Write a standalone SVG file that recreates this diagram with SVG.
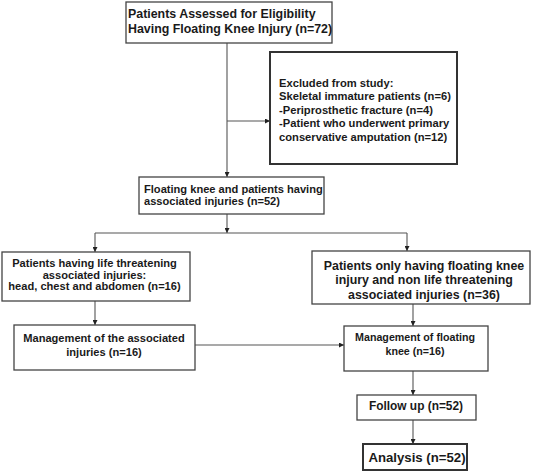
<svg xmlns="http://www.w3.org/2000/svg" width="536" height="474" viewBox="0 0 536 474">
<style>
.box{fill:#fff;stroke:#444;stroke-width:1.3}
.thick{stroke:#333;stroke-width:2}
.t{font-family:"Liberation Sans",Arial,sans-serif;font-weight:bold;fill:#1a1a1a}
.c{text-anchor:middle}
.ln{fill:none;stroke:#555;stroke-width:1.1}
</style>
<defs>
<marker id="ah" viewBox="0 0 10 10" refX="10" refY="5" markerWidth="5" markerHeight="5" markerUnits="userSpaceOnUse" orient="auto">
<path d="M0,0 L10,5 L0,10 z" fill="#222"/>
</marker>
</defs>
<rect width="536" height="474" fill="#fff"/>
<g id="connectors">
<path class="ln" d="M227,43 V177" marker-end="url(#ah)"/>
<path class="ln" d="M227,121 H270" marker-end="url(#ah)"/>
<path class="ln" d="M227,214 V233" marker-end="url(#ah)"/>
<path class="ln" d="M95,233 H407"/>
<path class="ln" d="M95,233 V252" marker-end="url(#ah)"/>
<path class="ln" d="M407,233 V251" marker-end="url(#ah)"/>
<path class="ln" d="M95,301 V325" marker-end="url(#ah)"/>
<path class="ln" d="M413,304 V326" marker-end="url(#ah)"/>
<path class="ln" d="M195,345 H344" marker-end="url(#ah)"/>
<path class="ln" d="M413,371 V395" marker-end="url(#ah)"/>
<path class="ln" d="M413,420 V444" marker-end="url(#ah)"/>
</g>
<g id="n1">
<rect class="box" x="126" y="2" width="206" height="41"/>
<text class="t" font-size="12.4" x="128" y="18">Patients Assessed for Eligibility</text>
<text class="t" font-size="12.4" x="128" y="32.5">Having Floating Knee Injury (n=72)</text>
</g>
<g id="n2">
<rect class="box thick" x="270" y="52" width="187" height="112"/>
<text class="t" font-size="11.2" x="279" y="87">Excluded from study:</text>
<text class="t" font-size="11.2" x="279" y="100.4">Skeletal immature patients (n=6)</text>
<text class="t" font-size="11.2" x="279" y="113.8">-Periprosthetic fracture (n=4)</text>
<text class="t" font-size="11.2" x="279" y="127.2">-Patient who underwent primary</text>
<text class="t" font-size="11.2" x="279" y="140.6">conservative amputation (n=12)</text>
</g>
<g id="n3">
<rect class="box" x="139" y="177" width="185" height="37"/>
<text class="t" font-size="11.1" x="144" y="193">Floating knee and patients having</text>
<text class="t" font-size="11.1" x="144" y="205">associated injuries (n=52)</text>
</g>
<g id="n4">
<rect class="box" x="2" y="252" width="188" height="49"/>
<text class="t c" font-size="11.1" x="94.5" y="267">Patients having life threatening</text>
<text class="t c" font-size="11.1" x="94.5" y="278.5">associated injuries:</text>
<text class="t c" font-size="11.1" x="94.5" y="290">head, chest and abdomen (n=16)</text>
</g>
<g id="n5">
<rect class="box" x="312" y="251" width="218" height="53"/>
<text class="t c" font-size="12.4" x="424" y="269.5">Patients only having floating knee</text>
<text class="t c" font-size="12.4" x="424" y="284">injury and non life threatening</text>
<text class="t c" font-size="12.4" x="424" y="298.5">associated injuries (n=36)</text>
</g>
<g id="n6">
<rect class="box" x="14" y="325" width="181" height="45"/>
<text class="t c" font-size="11.1" x="104" y="342">Management of the associated</text>
<text class="t c" font-size="11.1" x="104" y="356">injuries (n=16)</text>
</g>
<g id="n7">
<rect class="box" x="344" y="326" width="144" height="45"/>
<text class="t c" font-size="10.7" x="415" y="341">Management of floating</text>
<text class="t c" font-size="10.7" x="415" y="355">knee (n=16)</text>
</g>
<g id="n8">
<rect class="box" x="357" y="395" width="119" height="25"/>
<text class="t c" font-size="11.9" x="416" y="410">Follow up (n=52)</text>
</g>
<g id="n9">
<rect class="box thick" x="363" y="444" width="104" height="26"/>
<text class="t c" font-size="13.2" x="417" y="461.5">Analysis (n=52)</text>
</g>
</svg>
